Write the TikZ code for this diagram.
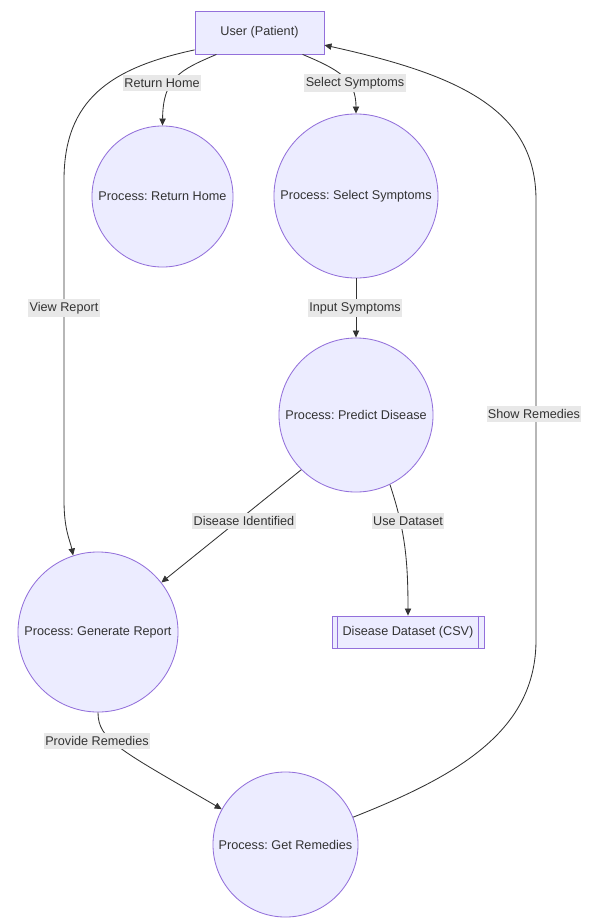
\documentclass[tikz,border=0pt]{standalone}
\usepackage{fontspec}
\setmainfont{Liberation Sans}
\usetikzlibrary{arrows.meta,positioning}

\definecolor{procfill}{HTML}{ECECFF}
\definecolor{procline}{HTML}{9370DB}
\definecolor{edgeline}{HTML}{333333}
\definecolor{lblfill}{HTML}{E8E8E8}

\frenchspacing

\begin{document}
\begin{tikzpicture}[
    x=0.025cm,
    y=-0.025cm,
    >={Triangle[length=5pt,width=4.5pt]},
    every node/.style={font=\fontsize{9}{11}\selectfont,text=edgeline},
    proc/.style={circle,draw=procline,fill=procfill,line width=0.6pt,inner sep=0pt},
    actor/.style={rectangle,draw=procline,fill=procfill,line width=0.6pt,
        minimum width=3.225cm,minimum height=1.075cm},
    store/.style={rectangle,draw=procline,fill=procfill,line width=0.6pt,
        minimum width=3.8cm,minimum height=0.8cm},
    flow/.style={->,draw=edgeline,line width=0.6pt},
    lbl/.style={fill=lblfill,inner xsep=1pt,inner ysep=2.5pt}
]

\useasboundingbox (0,0) rectangle (597,920);

% Nodes
\node[actor] (user) at (259.5,32.5) {User (Patient)};
\node[proc,minimum size=3.525cm] (home) at (162.5,196.5) {Process: Return Home};
\node[proc,minimum size=4.1cm] (sel) at (356,196) {Process: Select Symptoms};
\node[proc,minimum size=3.85cm] (pred) at (356,415) {Process: Predict Disease};
\node[proc,minimum size=4.0cm] (gen) at (98,632) {Process: Generate Report};
\node[store] (data) at (408,632) {Disease Dataset (CSV)};
\node[proc,minimum size=3.625cm] (rem) at (285.5,844.5) {Process: Get Remedies};

% Store side bars
\draw[procline,line width=0.6pt]
    ([xshift=0.15cm]data.north west) -- ([xshift=0.15cm]data.south west);
\draw[procline,line width=0.6pt]
    ([xshift=-0.15cm]data.north east) -- ([xshift=-0.15cm]data.south east);

% Edges
\draw[flow] (user.207) .. controls (180,70) and (163,78) .. (home.north);
\draw[flow] (user.-27) .. controls (340,70) and (356,80) .. (sel.north);
\draw[flow] (user.195)
    .. controls (110,68) and (64,100) .. (64,180)
    -- (64,500)
    .. controls (64,530) and (70,540) .. (gen.108);
\draw[flow] (sel) -- (pred);
\draw[flow] (pred.225) -- (gen.38);
\draw[flow] (pred.-64) .. controls (405,530) and (408,560) .. (data.north);
\draw[flow] (gen.south) .. controls (98,740) and (120,750) .. (rem.151);
\draw[flow] (rem.22)
    .. controls (460,775) and (536,730) .. (536,640)
    -- (536,200)
    .. controls (536,110) and (460,75) .. (user.-11);

% Edge labels
\node[lbl] (lhome) at (162,83) {Return Home};
\node[lbl] (lsel) at (355,83) {Select Symptoms};
\node[lbl] (lview) at (64,308) {View Report};
\node[lbl] (linput) at (355,308) {Input Symptoms};
\node[lbl] (lshow) at (534,414) {Show Remedies};
\node[lbl] (lident) at (244,521) {Disease Identified};
\node[lbl] (luse) at (408,521) {Use Dataset};
\node[lbl] (lprov) at (97,741) {Provide Remedies};

\end{tikzpicture}
\end{document}
